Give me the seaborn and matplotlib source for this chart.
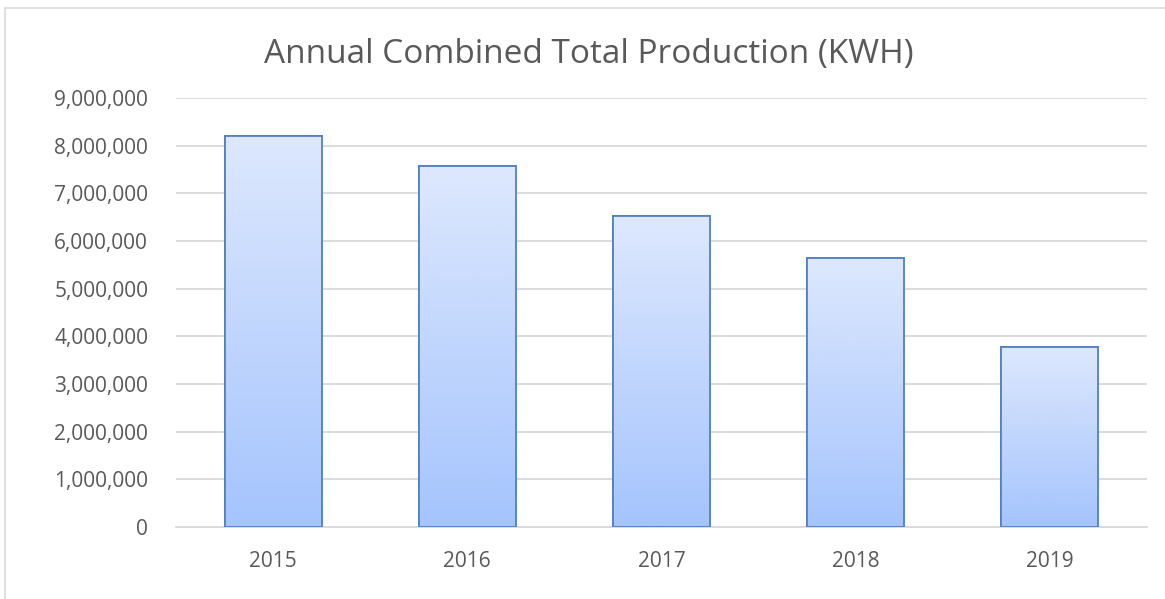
import numpy as np
import pandas as pd
import matplotlib
matplotlib.use("Agg")
import matplotlib.pyplot as plt
import seaborn as sns
from matplotlib.patches import Rectangle
from matplotlib.ticker import FuncFormatter, MultipleLocator
from matplotlib.colors import LinearSegmentedColormap

years = ["2015", "2016", "2017", "2018", "2019"]
production = [8210000, 7570000, 6520000, 5640000, 3780000]

df = pd.DataFrame({"year": years, "kwh": production})

sns.set_theme(style="white")
plt.rcParams['font.family'] = ['Open Sans', 'DejaVu Sans']

fig = plt.figure(figsize=(11.65, 5.99), dpi=100)
ax = fig.add_axes([176/1165, 1-527/599, (1147-176)/1165, (527-98)/599])

sns.barplot(data=df, x="year", y="kwh", ax=ax, width=0.5,
            color="#BBD3FD", edgecolor="#4F7FC0", linewidth=1.3, zorder=3)

ax.set_ylim(0, 9000000)
ax.yaxis.set_major_locator(MultipleLocator(1000000))
ax.yaxis.set_major_formatter(FuncFormatter(lambda v, p: f"{int(v):,}"))
ax.grid(axis="y", color="#D9D9D9", linewidth=1.3, zorder=0)
ax.set_axisbelow(True)
for s in ["top", "right", "left"]:
    ax.spines[s].set_visible(False)
ax.spines["bottom"].set_color("#D9D9D9")
ax.spines["bottom"].set_linewidth(1.3)
ax.set_xlabel("")
ax.set_ylabel("")
ax.tick_params(axis="both", length=0, labelsize=15, colors="#595959")
ax.tick_params(axis="y", pad=20)
ax.tick_params(axis="x", pad=17)

grad = np.linspace(0, 1, 256).reshape(-1, 1)
cmap = LinearSegmentedColormap.from_list("g", ["#DDE8FD", "#A5C4FD"])
for p in ax.patches:
    x0, y0 = p.get_x(), p.get_y()
    w, h = p.get_width(), p.get_height()
    im = ax.imshow(grad, extent=[x0, x0 + w, y0, y0 + h], aspect="auto",
                   cmap=cmap, origin="upper", zorder=3.5)
    im.set_clip_path(p)
    ax.add_patch(Rectangle((x0, y0), w, h, fill=False, edgecolor="#5282C2",
                           linewidth=1.3, zorder=4))
ax.set_xlim(-0.5, 4.5)
ax.set_ylim(0, 9000000)

fig.text(589/1165, 1-55/599, "Annual Combined Total Production (KWH)",
         ha="center", va="center", fontsize=24, color="#595959")

fig.patches.append(Rectangle((5/1165, -0.01), 1.1, 1-8/599 + 0.01,
                             transform=fig.transFigure, fill=False,
                             edgecolor="#D9D9D9", linewidth=1.2))

fig.savefig("out.png", dpi=100)
